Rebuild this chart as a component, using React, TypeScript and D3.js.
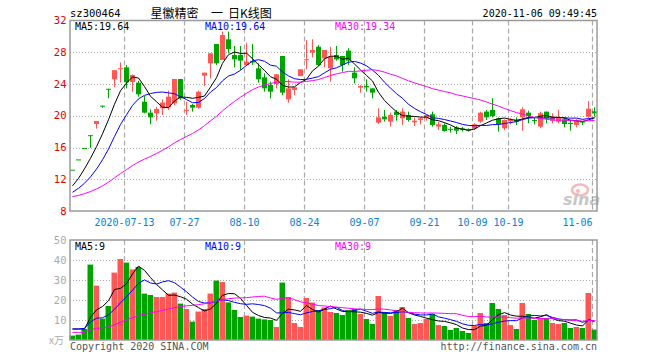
import React from 'react';
import * as d3 from 'd3';

const dates = [
  '06-30',
  '07-01','07-02','07-03','07-06','07-07','07-08','07-09','07-10','07-13','07-14','07-15','07-16','07-17','07-20','07-21','07-22','07-23','07-24','07-27','07-28','07-29','07-30','07-31',
  '08-03','08-04','08-05','08-06','08-07','08-10','08-11','08-12','08-13','08-14','08-17','08-18','08-19','08-20','08-21','08-24','08-25','08-26','08-27','08-28','08-31',
  '09-01','09-02','09-03','09-04','09-07','09-08','09-09','09-10','09-11','09-14','09-15','09-16','09-17','09-18','09-21','09-22','09-23','09-24','09-25','09-28','09-29','09-30',
  '10-09','10-12','10-13','10-14','10-15','10-16','10-19','10-20','10-21','10-22','10-23','10-26','10-27','10-28','10-29','10-30',
  '11-02','11-03','11-04','11-05','11-06',
];

const open = [
  13.2, 14.5, 15.95, 17.55, 18.96, 21.27, 23.4, 24.59, 25.95, 26.1,
  24.25, 24.17, 21.77, 20.39, 20.3, 20.94, 21.06, 21.57, 24.63, 20.72,
  21.36, 21.02, 25.05, 26.6, 29.04, 27.02, 29.63, 27.65, 27.65, 26.39,
  26.9, 25.97, 24.84, 23.87, 24.0, 27.53, 22.07, 23.25, 25.0, 27.08,
  27.95, 28.7, 27.23, 25.97, 27.65, 27.53, 28.2, 25.43, 23.54, 23.75,
  23.45, 19.13, 19.88, 19.26, 20.52, 19.68, 20.1, 19.17, 19.47, 19.68,
  20.18, 18.63, 18.84, 18.35, 18.54, 18.4, 18.29, 18.42, 19.26, 20.52,
  20.73, 19.68, 18.42, 19.3, 19.47, 19.8, 20.39, 19.47, 18.63, 20.52,
  19.38, 19.26, 19.55, 19.1, 18.84, 19.26, 19.88, 20.56,
];
const high = [
  13.2, 14.5, 15.95, 17.55, 19.34, 21.27, 23.4, 25.74, 26.73, 26.39,
  25.2, 24.4, 22.49, 20.8, 21.1, 22.07, 23.16, 24.63, 24.63, 21.77,
  21.48, 23.16, 25.43, 27.86, 29.04, 30.6, 30.6, 28.79, 28.79, 29.2,
  29.04, 26.6, 25.35, 24.29, 25.22, 27.53, 24.59, 23.58, 25.85, 29.54,
  29.63, 28.9, 28.28, 28.7, 28.79, 27.53, 28.5, 26.1, 23.85, 24.59,
  23.45, 20.94, 20.73, 20.39, 20.73, 20.94, 20.52, 19.8, 19.8, 20.1,
  20.52, 19.26, 19.05, 18.63, 18.71, 18.6, 18.4, 19.05, 20.52, 20.73,
  22.2, 19.8, 19.55, 19.7, 19.8, 21.06, 20.64, 19.8, 20.52, 20.52,
  20.31, 20.73, 19.8, 19.47, 19.55, 19.3, 21.86, 21.06,
];
const low = [
  13.2, 14.5, 15.95, 15.95, 18.37, 21.0, 22.2, 23.58, 24.21, 23.45,
  23.03, 22.4, 20.3, 18.92, 19.38, 20.1, 20.73, 21.35, 22.0, 20.1,
  20.52, 20.9, 23.75, 24.71, 26.4, 27.02, 27.86, 26.1, 25.76, 26.27,
  26.4, 24.17, 23.03, 22.2, 23.45, 22.6, 21.65, 22.6, 25.0, 25.85,
  27.36, 26.27, 26.1, 24.3, 26.94, 25.55, 26.39, 24.08, 22.9, 23.03,
  22.2, 18.96, 19.26, 18.63, 19.38, 18.84, 19.26, 18.71, 18.92, 19.38,
  18.63, 18.2, 18.0, 17.87, 17.7, 18.0, 18.0, 18.2, 19.13, 19.47,
  19.8, 18.0, 18.2, 18.9, 18.84, 18.12, 19.05, 18.9, 18.42, 19.05,
  19.05, 19.05, 18.54, 18.12, 18.54, 18.84, 19.68, 19.88,
];
const close = [
  13.2, 14.5, 15.95, 17.55, 19.34, 21.27, 23.4, 25.74, 25.98, 24.21,
  25.13, 22.7, 20.39, 19.8, 20.85, 21.65, 22.4, 24.63, 22.2, 20.74,
  21.02, 23.03, 25.43, 27.86, 26.6, 30.17, 28.41, 27.1, 26.94, 26.81,
  26.7, 24.59, 23.45, 23.03, 25.22, 22.91, 23.45, 23.58, 25.85, 27.12,
  28.28, 26.39, 28.28, 27.44, 27.1, 26.39, 26.94, 24.71, 23.75, 23.58,
  22.91, 19.8, 19.55, 20.1, 20.1, 20.52, 19.47, 19.38, 19.68, 20.1,
  18.84, 18.92, 18.08, 18.31, 18.12, 18.2, 18.12, 18.92, 20.39, 19.8,
  19.97, 18.96, 19.47, 19.47, 19.26, 20.81, 19.97, 19.38, 20.31, 19.68,
  19.8, 19.8, 18.96, 18.96, 19.38, 19.22, 20.89, 20.31,
];
const volume = [
  2.2, 2.7, 5.5, 37.7, 27.2, 10.7, 17, 33.7, 40.5, 38.7,
  35.3, 36.5, 23.2, 22.5, 21.5, 21.5, 23.2, 23.7, 18.2, 15.5,
  9.2, 14.2, 15.5, 23.2, 29.7, 29, 18.8, 15, 11.5, 12.2,
  11.7, 10.7, 10.3, 10, 6.5, 28.7, 21.5, 8.5, 6.5, 21,
  18.7, 15, 16.3, 14, 13.5, 12.5, 15, 15.5, 13, 10.5,
  8, 22, 13.8, 12, 15, 16.5, 11, 8, 8.5, 10.5,
  13, 7.5, 7, 5, 6, 4.5, 3.5, 7, 13.5, 8.5,
  18.5, 15.5, 12.5, 7.5, 5.5, 18.5, 13, 10, 11, 11,
  8.5, 8, 8.5, 6, 6.5, 6, 23.5, 5.2,
];

// sessions before the window, needed for the moving averages (oldest first)
const priorCloses = [
  9.45, 9.52, 9.6, 9.58, 9.5, 9.41, 9.48, 9.55, 9.62, 9.57,
  9.49, 9.44, 9.51, 9.58, 9.63, 9.55, 9.47, 9.5, 9.53, 9.46,
  9.52, 9.58, 9.49, 9.55, 9.61, 9.82, 9.92, 10.91, 12.0,
];
const priorVolumes = [
  2.8, 3.1, 2.6, 3.4, 2.9, 2.7, 3.2, 3.0, 2.5, 2.9,
  3.3, 2.8, 3.1, 2.6, 3.0, 2.9, 3.2, 2.8, 3.1, 3.1,
  2.4, 2.6, 5.3, 8.7, 8.5, 2.7, 5.5, 8.5, 8.6,
];

const maPeriods = [5, 10, 30];
const priceMaLabels = ['MA5:19.64', 'MA10:19.64', 'MA30:19.34'];
const volMaLabels = ['MA5:9', 'MA10:9', 'MA30:9'];
const xTickDates = ['07-13', '07-27', '08-10', '08-24', '09-07', '09-21', '10-09', '10-19', '11-06'];
const xTickLabels = ['2020-07-13', '07-27', '08-10', '08-24', '09-07', '09-21', '10-09', '10-19', '11-06'];
const priceTicks = [8, 12, 16, 20, 24, 28, 32];
const volTicks = [10, 20, 30, 40, 50];
const stockCode = 'sz300464';
const stockName = '星徽精密';
const chartKind = '日K线图';
const timestamp = '2020-11-06 09:49:45';

const W = 660;
const H = 360;
const L = 70;
const R = 597;
const P_TOP = 20.5;
const P_BOT = 211;
const V_TOP = 240;
const V_BOT = 340;
const RED = '#ff5656';
const GREEN = '#00a400';
const MA_COLORS = ['#000000', '#0000ff', '#ff00ff'];
const MONO = '"DejaVu Sans Mono", "Liberation Mono", monospace';

function movingAverage(prior: number[], values: number[], n: number): number[] {
  const all = prior.concat(values);
  const off = prior.length;
  return values.map((_, i) => d3.mean(all.slice(off + i - n + 1, off + i + 1)) as number);
}

export default function App() {
  const x = d3.scaleBand<string>().domain(dates).range([69, 597]).padding(0);
  const cx = (d: string) => (x(d) as number) + 3;
  const yP = d3.scaleLinear().domain([8, 32]).range([P_BOT, P_TOP]);
  const yV = d3.scaleLinear().domain([0, 50]).range([V_BOT, V_TOP]);

  const priceMA = maPeriods.map((n) => movingAverage(priorCloses, close, n));
  const volMA = maPeriods.map((n) => movingAverage(priorVolumes, volume, n));

  const lineP = d3.line<number>().x((_, i) => cx(dates[i]) + 0.5).y((v) => yP(v));
  const lineV = d3.line<number>().x((_, i) => cx(dates[i]) + 0.5).y((v) => yV(v));

  const isUp = (i: number) => close[i] > open[i];

  const gridP = priceTicks.filter((t) => t > 8 && t < 32);
  const gridV = volTicks.filter((t) => t < 50);

  return (
    <svg
      width={W}
      height={H}
      style={{ position: 'absolute', left: 0, top: 0, background: '#fff' }}
      fontFamily={MONO}
    >
      <rect x={0} y={0} width={W} height={H} fill="#fff" />
      {/* header */}
      <text x={70} y={17} fontSize={10.5} fill="#000">{stockCode}</text>
      <text x={150.5} y={18} fontSize={12} fill="#000" fontFamily='"Noto Sans CJK SC", sans-serif'>{stockName}</text>
      <text x={211} y={18} fontSize={12} fill="#000" fontFamily='"Noto Sans CJK SC", sans-serif'>一</text>
      <text x={228} y={18} fontSize={12} fill="#000" fontFamily='"Noto Sans CJK SC", sans-serif'>{chartKind}</text>
      <text x={597} y={17} fontSize={10} fill="#000" textAnchor="end">{timestamp}</text>

      {/* grid: price */}
      {gridP.map((t) => (
        <line key={'gp' + t} x1={L} x2={R} y1={Math.round(yP(t)) + 0.5} y2={Math.round(yP(t)) + 0.5}
          stroke="#aaa" strokeDasharray="1,2" />
      ))}
      {gridV.map((t) => (
        <line key={'gv' + t} x1={L} x2={R} y1={Math.round(yV(t)) + 0.5} y2={Math.round(yV(t)) + 0.5}
          stroke="#aaa" strokeDasharray="1,2" />
      ))}
      {xTickDates.map((d) => (
        <g key={'vx' + d}>
          <line x1={cx(d) - 1.5} x2={cx(d) - 1.5} y1={P_TOP} y2={P_BOT} stroke="#aaa" strokeWidth={1.2} strokeDasharray="5,3" />
          <line x1={cx(d) - 1.5} x2={cx(d) - 1.5} y1={V_TOP} y2={V_BOT} stroke="#aaa" strokeWidth={1.2} strokeDasharray="5,3" />
        </g>
      ))}

      {/* sina watermark */}
      <g opacity={0.55}>
        <ellipse cx={580} cy={190} rx={8} ry={5.5} fill="none" stroke="#f08080" strokeWidth={2.5} />
        <circle cx={578} cy={191} r={2} fill="#f08080" />
        <text x={563} y={205} fontSize={16} fontStyle="italic" fontWeight="bold" fill="#999" fontFamily='"DejaVu Sans", sans-serif'>sina</text>
      </g>

      {/* candles */}
      {dates.map((d, i) => {
        const c = cx(d);
        const col = isUp(i) ? RED : GREEN;
        const top = yP(Math.max(open[i], close[i]));
        const bot = yP(Math.min(open[i], close[i]));
        const h = Math.max(1, bot - top);
        return (
          <g key={'c' + d}>
            <line x1={c + 0.5} x2={c + 0.5} y1={yP(high[i])} y2={yP(low[i])} stroke={col} strokeWidth={1} />
            <rect x={c - 2} y={top} width={5} height={h} fill={col} />
          </g>
        );
      })}

      {/* price MA lines */}
      {priceMA.map((arr, k) => (
        <path key={'pm' + k} d={lineP(arr) as string} fill="none" stroke={MA_COLORS[k]} strokeWidth={1} />
      ))}

      {/* volume bars */}
      {dates.map((d, i) => {
        const c = cx(d);
        const col = isUp(i) ? RED : GREEN;
        return <rect key={'v' + d} x={c - 2.5} y={yV(volume[i])} width={5.5} height={V_BOT - yV(volume[i])} fill={col} />;
      })}
      {volMA.map((arr, k) => (
        <path key={'vm' + k} d={lineV(arr) as string} fill="none" stroke={MA_COLORS[k]} strokeWidth={1} />
      ))}

      {/* frames */}
      <rect x={L} y={P_TOP} width={R - L} height={P_BOT - P_TOP} fill="none" stroke="#9a9a9a" strokeWidth={1.5} />
      <rect x={L} y={V_TOP} width={R - L} height={V_BOT - V_TOP} fill="none" stroke="#9a9a9a" strokeWidth={1.5} />

      {/* legends */}
      {priceMaLabels.map((t, k) => (
        <text key={'pl' + k} x={[75, 205, 335][k]} y={30} fontSize={10} fill={MA_COLORS[k]}>{t}</text>
      ))}
      {volMaLabels.map((t, k) => (
        <text key={'vl' + k} x={[75, 205, 335][k]} y={250} fontSize={10} fill={MA_COLORS[k]}>{t}</text>
      ))}

      {/* axis labels */}
      {priceTicks.map((t) => (
        <text key={'pt' + t} x={66.5} y={yP(t) + 3.5} fontSize={10.5} fill="#e00000" textAnchor="end">{t}</text>
      ))}
      {volTicks.map((t) => (
        <text key={'vt' + t} x={66.5} y={yV(t) + 3.5} fontSize={10.5} fill="#aaa" textAnchor="end">{t}</text>
      ))}
      <text x={49} y={344} fontSize={10} fill="#aaa" fontFamily='"Noto Sans CJK SC", sans-serif'>x万</text>
      {xTickDates.map((d, k) => {
        const lx = cx(d) - 1.5;
        const w = xTickLabels[k].length * 6;
        const clamp = lx + w / 2 > R;
        return (
          <text key={'xt' + d} x={lx} y={225.5} fontSize={10} fill="#0a80d6" textAnchor={clamp ? 'end' : 'middle'}>
            {xTickLabels[k]}
          </text>
        );
      })}

      {/* footer */}
      <text x={70} y={350} fontSize={10} fill="#555">Copyright 2020 SINA.COM</text>
      <text x={597} y={350} fontSize={10} fill="#555" textAnchor="end">http://finance.sina.com.cn</text>
    </svg>
  );
}
